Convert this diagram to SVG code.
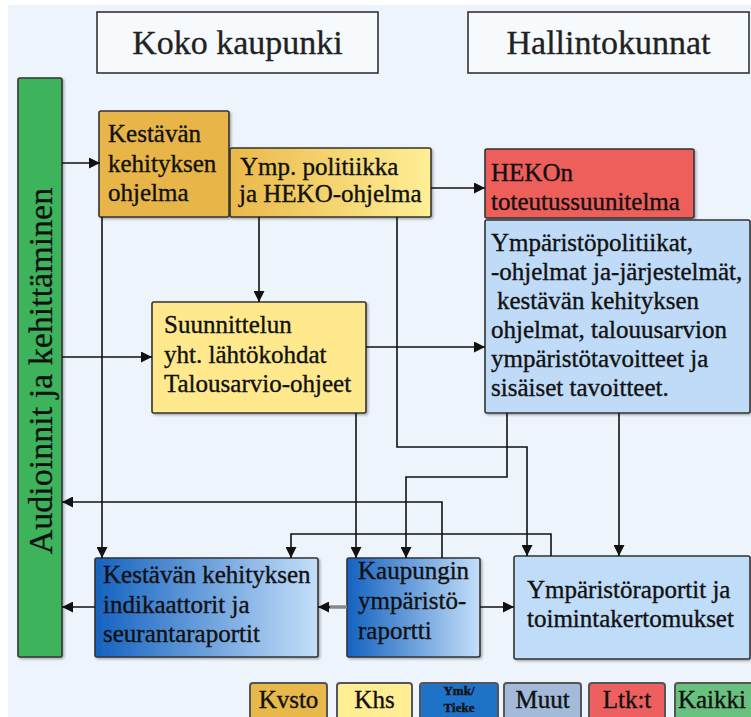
<svg xmlns="http://www.w3.org/2000/svg" width="751" height="717" viewBox="0 0 751 717">
<defs>
<style>
text{font-family:"Liberation Serif","Times New Roman",serif;fill:#111;stroke:#111;stroke-width:0.35}
.bx{stroke:#333;stroke-width:1.6}
.t{font-size:25px}
.h{font-size:34px;fill:#222;stroke:#222;stroke-width:0.3}
.lg{font-size:25px;text-anchor:middle}
.ln{fill:none;stroke:#111;stroke-width:1.6}
.lb{stroke:#555;stroke-width:2}
</style>
<linearGradient id="gy" x1="0" y1="0" x2="1" y2="0">
<stop offset="0" stop-color="#EAB84A"/>
<stop offset="1" stop-color="#FFEF96"/>
</linearGradient>
<linearGradient id="gb" x1="0" y1="0" x2="1" y2="0">
<stop offset="0" stop-color="#1462C0"/>
<stop offset="1" stop-color="#C4DFF9"/>
</linearGradient>
<filter id="sh" x="-5%" y="-5%" width="115%" height="115%">
<feDropShadow dx="1.5" dy="1.5" stdDeviation="1" flood-color="#000" flood-opacity="0.3"/>
</filter>
<marker id="ar" viewBox="0 0 10 10" refX="10" refY="5" markerWidth="11" markerHeight="11" markerUnits="userSpaceOnUse" orient="auto">
<path d="M0,0 L10,5 L0,10 Z" fill="#111"/>
</marker>
</defs>
<rect x="8" y="5" width="743" height="712" fill="#EEF4FB"/>

<g id="hdr-koko">
<rect x="97" y="12" width="281" height="61" fill="#F7FAFD" class="bx"/>
<text class="h" x="237.5" y="54" text-anchor="middle">Koko kaupunki</text>
</g>
<g id="hdr-hallinto">
<rect x="468" y="12" width="281" height="61" fill="#F7FAFD" class="bx"/>
<text class="h" x="608.5" y="54" text-anchor="middle">Hallintokunnat</text>
</g>

<g id="audit">
<rect x="18" y="78" width="44" height="579" rx="2" fill="#3DB35B" class="bx" filter="url(#sh)"/>
<text class="h" transform="translate(52,371) rotate(-90)" text-anchor="middle" style="fill:#111;stroke:#111">Audioinnit ja kehittäminen</text>
</g>

<g id="kestavan-ohjelma">
<rect x="99" y="111" width="130" height="106" rx="2" fill="#E8B54A" class="bx" filter="url(#sh)"/>
<text class="t" x="108" y="142">Kestävän</text>
<text class="t" x="108" y="172">kehityksen</text>
<text class="t" x="108" y="201">ohjelma</text>
</g>

<g id="ymp-politiikka">
<rect x="230" y="148" width="201" height="69" rx="2" fill="url(#gy)" class="bx" filter="url(#sh)"/>
<text class="t" x="240" y="175">Ymp. politiikka</text>
<text class="t" x="239" y="202">ja HEKO-ohjelma</text>
</g>

<g id="heko-toteutus">
<rect x="485" y="149" width="209" height="69" rx="2" fill="#EE5F5B" class="bx" filter="url(#sh)"/>
<text class="t" x="491" y="181">HEKOn</text>
<text class="t" x="491" y="210">toteutussuunitelma</text>
</g>

<g id="ymparistopolitiikat">
<rect x="485" y="220" width="265" height="193" rx="2" fill="#BFDBF8" class="bx" filter="url(#sh)"/>
<text class="t" x="491" y="251">Ympäristöpolitiikat,</text>
<text class="t" x="491" y="280">-ohjelmat ja-järjestelmät,</text>
<text class="t" x="497" y="309">kestävän kehityksen</text>
<text class="t" x="491" y="338">ohjelmat, talouusarvion</text>
<text class="t" x="491" y="367">ympäristötavoitteet ja</text>
<text class="t" x="491" y="396">sisäiset tavoitteet.</text>
</g>

<g id="suunnittelun">
<rect x="152" y="302" width="214" height="111" rx="2" fill="#FFE98C" class="bx" filter="url(#sh)"/>
<text class="t" x="164" y="333">Suunnittelun</text>
<text class="t" x="164" y="363">yht. lähtökohdat</text>
<text class="t" x="164" y="392">Talousarvio-ohjeet</text>
</g>

<g id="indikaattorit">
<rect x="95" y="558" width="223" height="99" rx="2" fill="url(#gb)" class="bx" filter="url(#sh)"/>
<text class="t" x="103" y="583">Kestävän kehityksen</text>
<text class="t" x="103" y="613">indikaattorit ja</text>
<text class="t" x="103" y="642">seurantaraportit</text>
</g>

<g id="kaupungin-raportti">
<rect x="347" y="558" width="133" height="99" rx="2" fill="url(#gb)" class="bx" filter="url(#sh)"/>
<text class="t" x="358" y="579">Kaupungin</text>
<text class="t" x="358" y="609">ympäristö-</text>
<text class="t" x="358" y="639">raportti</text>
</g>

<g id="ymparistoraportit">
<rect x="514" y="556" width="236" height="103" rx="2" fill="#BFDCF8" class="bx" filter="url(#sh)"/>
<text class="t" x="527" y="598">Ympäristöraportit ja</text>
<text class="t" x="527" y="627">toimintakertomukset</text>
</g>

<g id="connectors">
<path class="ln" d="M62,163 H100" marker-end="url(#ar)"/>
<path class="ln" d="M62,357 H152" marker-end="url(#ar)"/>
<path class="ln" d="M431,188 H485" marker-end="url(#ar)"/>
<path class="ln" d="M259,217 V302" marker-end="url(#ar)"/>
<path class="ln" d="M366,347 H485" marker-end="url(#ar)"/>
<path class="ln" d="M102,217 V558" marker-end="url(#ar)"/>
<path class="ln" d="M397,217 V447 H527 V556" marker-end="url(#ar)"/>
<path class="ln" d="M356,413 V558" marker-end="url(#ar)"/>
<path class="ln" d="M507,413 V477 H406 V558" marker-end="url(#ar)"/>
<path class="ln" d="M619,413 V556" marker-end="url(#ar)"/>
<path class="ln" d="M442,558 V502 H62" marker-end="url(#ar)"/>
<path class="ln" d="M551,556 V534 H291 V558" marker-end="url(#ar)"/>
<path class="ln" d="M95,607 H62" marker-end="url(#ar)"/>
<path d="M347,607 H328" fill="none" stroke="#888" stroke-width="3.5"/>
<path class="ln" d="M330,607 H318" marker-end="url(#ar)"/>
<path class="ln" d="M480,607 H514" marker-end="url(#ar)"/>
</g>

<g id="legend-kvsto">
<rect x="250" y="683" width="77" height="40" rx="3" fill="#E8B84B" class="lb"/>
<text class="lg" x="288.5" y="708">Kvsto</text>
</g>
<g id="legend-khs">
<rect x="337" y="683" width="75" height="40" rx="3" fill="#FFEE94" class="lb"/>
<text class="lg" x="374.5" y="708">Khs</text>
</g>
<g id="legend-ymk">
<rect x="420" y="683" width="78" height="40" rx="3" fill="#1E72C8" class="lb"/>
<text class="lg" x="459" y="695" style="font-size:13px;font-weight:bold">Ymk/</text>
<text class="lg" x="459" y="712" style="font-size:13px;font-weight:bold">Tieke</text>
</g>
<g id="legend-muut">
<rect x="504" y="683" width="77" height="40" rx="3" fill="#A3BAD9" class="lb"/>
<text class="lg" x="542.5" y="708">Muut</text>
</g>
<g id="legend-ltk">
<rect x="589" y="683" width="76" height="40" rx="3" fill="#EE6060" class="lb"/>
<text class="lg" x="627" y="708">Ltk:t</text>
</g>
<g id="legend-kaikki">
<rect x="675" y="683" width="80" height="40" rx="3" fill="#68C17E" class="lb"/>
<text class="lg" x="712" y="708">Kaikki</text>
</g>
</svg>
